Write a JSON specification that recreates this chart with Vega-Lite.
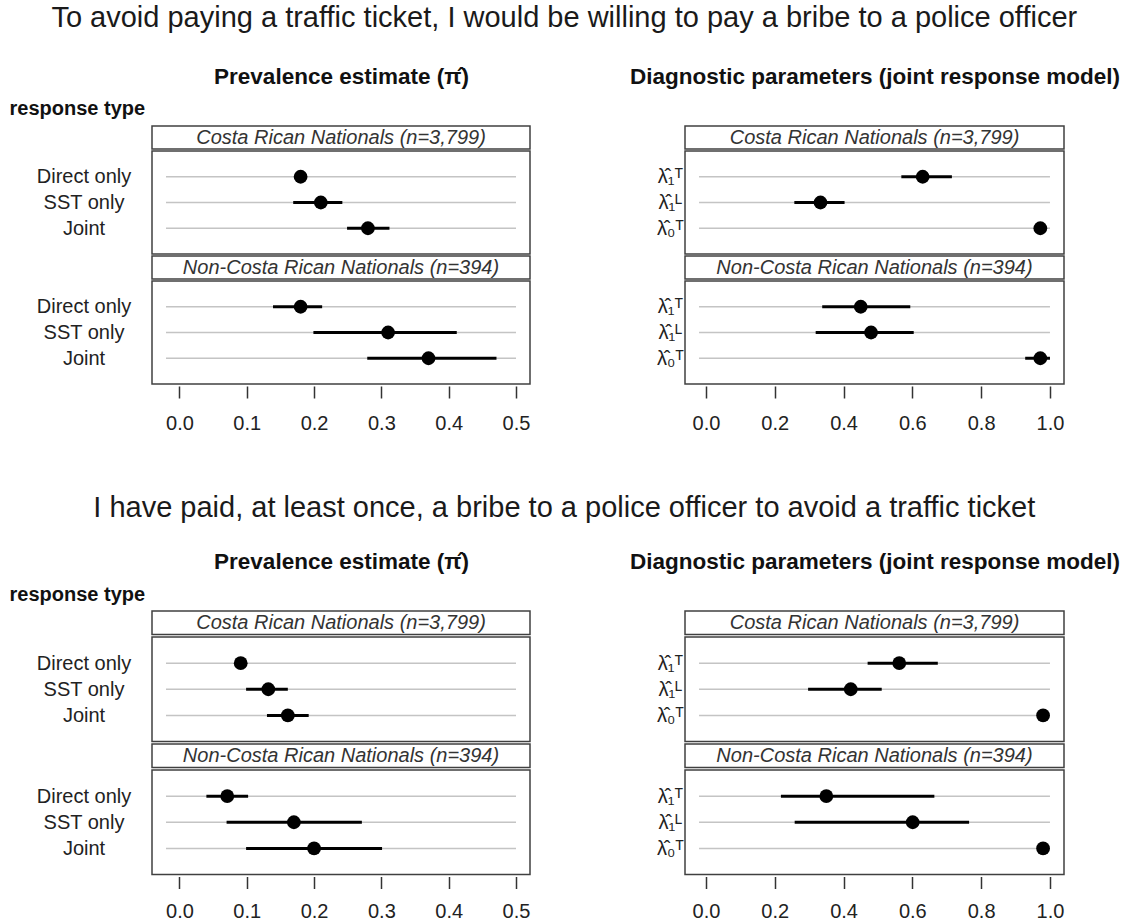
{
  "$schema": "https://vega.github.io/schema/vega-lite/v6.json",
  "padding": {"left": 8, "top": 4, "right": 0, "bottom": 0},
  "background": "white",
  "datasets": {
    "est": [
      {"q": 1, "panel": "prev", "grp": "CR", "row": "Direct only", "est": 0.18, "lo": 0.176, "hi": 0.185},
      {"q": 1, "panel": "prev", "grp": "CR", "row": "SST only", "est": 0.21, "lo": 0.169, "hi": 0.242},
      {"q": 1, "panel": "prev", "grp": "CR", "row": "Joint", "est": 0.28, "lo": 0.249, "hi": 0.312},
      {"q": 1, "panel": "prev", "grp": "NonCR", "row": "Direct only", "est": 0.18, "lo": 0.139, "hi": 0.212},
      {"q": 1, "panel": "prev", "grp": "NonCR", "row": "SST only", "est": 0.31, "lo": 0.199, "hi": 0.412},
      {"q": 1, "panel": "prev", "grp": "NonCR", "row": "Joint", "est": 0.37, "lo": 0.279, "hi": 0.471},
      {"q": 1, "panel": "diag", "grp": "CR", "row": "\u03bb\u0302\u2081\u1d40", "est": 0.63, "lo": 0.568, "hi": 0.715},
      {"q": 1, "panel": "diag", "grp": "CR", "row": "\u03bb\u0302\u2081\u1d38", "est": 0.333, "lo": 0.257, "hi": 0.403},
      {"q": 1, "panel": "diag", "grp": "CR", "row": "\u03bb\u0302\u2080\u1d40", "est": 0.972, "lo": 0.965, "hi": 0.98},
      {"q": 1, "panel": "diag", "grp": "NonCR", "row": "\u03bb\u0302\u2081\u1d40", "est": 0.45, "lo": 0.338, "hi": 0.594},
      {"q": 1, "panel": "diag", "grp": "NonCR", "row": "\u03bb\u0302\u2081\u1d38", "est": 0.48, "lo": 0.319, "hi": 0.604},
      {"q": 1, "panel": "diag", "grp": "NonCR", "row": "\u03bb\u0302\u2080\u1d40", "est": 0.972, "lo": 0.928, "hi": 1.0},
      {"q": 2, "panel": "prev", "grp": "CR", "row": "Direct only", "est": 0.091, "lo": 0.087, "hi": 0.095},
      {"q": 2, "panel": "prev", "grp": "CR", "row": "SST only", "est": 0.132, "lo": 0.099, "hi": 0.161},
      {"q": 2, "panel": "prev", "grp": "CR", "row": "Joint", "est": 0.161, "lo": 0.13, "hi": 0.192},
      {"q": 2, "panel": "prev", "grp": "NonCR", "row": "Direct only", "est": 0.071, "lo": 0.04, "hi": 0.102},
      {"q": 2, "panel": "prev", "grp": "NonCR", "row": "SST only", "est": 0.17, "lo": 0.07, "hi": 0.271},
      {"q": 2, "panel": "prev", "grp": "NonCR", "row": "Joint", "est": 0.2, "lo": 0.099, "hi": 0.301},
      {"q": 2, "panel": "diag", "grp": "CR", "row": "\u03bb\u0302\u2081\u1d40", "est": 0.562, "lo": 0.47, "hi": 0.674},
      {"q": 2, "panel": "diag", "grp": "CR", "row": "\u03bb\u0302\u2081\u1d38", "est": 0.421, "lo": 0.297, "hi": 0.511},
      {"q": 2, "panel": "diag", "grp": "CR", "row": "\u03bb\u0302\u2080\u1d40", "est": 0.98, "lo": 0.975, "hi": 0.985},
      {"q": 2, "panel": "diag", "grp": "NonCR", "row": "\u03bb\u0302\u2081\u1d40", "est": 0.35, "lo": 0.218, "hi": 0.664},
      {"q": 2, "panel": "diag", "grp": "NonCR", "row": "\u03bb\u0302\u2081\u1d38", "est": 0.601, "lo": 0.258, "hi": 0.765},
      {"q": 2, "panel": "diag", "grp": "NonCR", "row": "\u03bb\u0302\u2080\u1d40", "est": 0.98, "lo": 0.975, "hi": 0.985}
    ],
    "hdr": [
      {"grp": "CR", "label": "Costa Rican Nationals (n=3,799)"},
      {"grp": "NonCR", "label": "Non-Costa Rican Nationals (n=394)"}
    ]
  },
  "vconcat": [
    {
      "title": {"text": "To avoid paying a traffic ticket, I would be willing to pay a bribe to a police officer", "offset": 31},
      "spacing": 97,
      "hconcat": [
        {
          "spacing": 0,
          "vconcat": [
            {
              "width": 378, "height": 23,
              "data": {"name": "hdr"},
              "transform": [{"filter": "datum.grp == 'CR'"}],
              "mark": {"type": "text", "fontStyle": "italic", "fontSize": 20, "color": "#333"},
              "encoding": {
                "text": {"field": "label"},
                "x": {"field": "label", "type": "nominal", "axis": {"orient": "top", "labels": false, "ticks": false, "domain": false, "title": "Prevalence estimate (\u03c0\u0302)", "titleFontSize": 22.5, "titleFontWeight": "bold", "titleBaseline": "alphabetic", "titleY": -43, "titleColor": "#111"}},
                "y": {"field": "label", "type": "nominal", "axis": {"labels": false, "ticks": false, "domain": false, "title": "response type", "titleAngle": 0, "titleAlign": "left", "titleBaseline": "alphabetic", "titleX": -143, "titleY": -12, "titleFontSize": 20, "titleFontWeight": "bold", "titleColor": "#111"}}
              }
            },
            {
              "width": 378, "height": 103,
              "data": {"name": "est"},
              "transform": [{"filter": "datum.q == 1 && datum.panel == 'prev' && datum.grp == 'CR'"}],
              "encoding": {
                "y": {"field": "row", "type": "nominal", "sort": null, "scale": {"type": "point", "padding": 1}, "axis": {"title": null, "domain": false, "ticks": false, "labelAlign": "center", "labelPadding": 68.5, "labelFontSize": 20, "labelColor": "#222"}}
              },
              "layer": [
                {"mark": {"type": "rule", "color": "#c4c4c4", "strokeWidth": 1.5}, "encoding": {"x": {"datum": -0.02, "type": "quantitative", "scale": {"domain": [-0.0408, 0.5208], "nice": false, "zero": false}, "axis": null}, "x2": {"datum": 0.5}}},
                {"mark": {"type": "rule", "color": "black", "strokeWidth": 3}, "encoding": {"x": {"field": "lo", "type": "quantitative", "axis": null}, "x2": {"field": "hi"}}},
                {"mark": {"type": "point", "filled": true, "color": "black", "size": 190, "opacity": 1}, "encoding": {"x": {"field": "est", "type": "quantitative", "axis": null}}}
              ]
            },
            {
              "width": 378, "height": 23,
              "data": {"name": "hdr"},
              "transform": [{"filter": "datum.grp == 'NonCR'"}],
              "mark": {"type": "text", "fontStyle": "italic", "fontSize": 20, "color": "#333"},
              "encoding": {
                "text": {"field": "label"},
                "x": {"field": "label", "type": "nominal", "axis": null},
                "y": {"field": "label", "type": "nominal", "axis": null}
              }
            },
            {
              "width": 378, "height": 103,
              "data": {"name": "est"},
              "transform": [{"filter": "datum.q == 1 && datum.panel == 'prev' && datum.grp == 'NonCR'"}],
              "encoding": {
                "y": {"field": "row", "type": "nominal", "sort": null, "scale": {"type": "point", "padding": 1}, "axis": {"title": null, "domain": false, "ticks": false, "labelAlign": "center", "labelPadding": 68.5, "labelFontSize": 20, "labelColor": "#222"}}
              },
              "layer": [
                {"mark": {"type": "rule", "color": "#c4c4c4", "strokeWidth": 1.5}, "encoding": {"x": {"datum": -0.02, "type": "quantitative", "scale": {"domain": [-0.0408, 0.5208], "nice": false, "zero": false}, "axis": {"values": [0, 0.1, 0.2, 0.3, 0.4, 0.5], "format": ".1f", "title": null, "domain": false, "grid": false, "tickSize": 12, "tickWidth": 1.5, "tickColor": "#333", "offset": 2, "labelPadding": 15, "labelFontSize": 20, "labelColor": "#222", "labelFlush": false}}, "x2": {"datum": 0.5}}},
                {"mark": {"type": "rule", "color": "black", "strokeWidth": 3}, "encoding": {"x": {"field": "lo", "type": "quantitative"}, "x2": {"field": "hi"}}},
                {"mark": {"type": "point", "filled": true, "color": "black", "size": 190, "opacity": 1}, "encoding": {"x": {"field": "est", "type": "quantitative"}}}
              ]
            }
          ]
        },
        {
          "spacing": 0,
          "vconcat": [
            {
              "width": 379, "height": 23,
              "data": {"name": "hdr"},
              "transform": [{"filter": "datum.grp == 'CR'"}],
              "mark": {"type": "text", "fontStyle": "italic", "fontSize": 20, "color": "#333"},
              "encoding": {
                "text": {"field": "label"},
                "x": {"field": "label", "type": "nominal", "axis": {"orient": "top", "labels": false, "ticks": false, "domain": false, "title": "Diagnostic parameters (joint response model)", "titleFontSize": 22.5, "titleFontWeight": "bold", "titleBaseline": "alphabetic", "titleY": -43, "titleColor": "#111"}},
                "y": {"field": "label", "type": "nominal", "axis": null}
              }
            },
            {
              "width": 379, "height": 103,
              "data": {"name": "est"},
              "transform": [{"filter": "datum.q == 1 && datum.panel == 'diag' && datum.grp == 'CR'"}],
              "encoding": {
                "y": {"field": "row", "type": "nominal", "sort": null, "scale": {"type": "point", "padding": 1}, "axis": {"title": null, "domain": false, "ticks": false, "labelAlign": "center", "labelPadding": 15, "labelFontSize": 20, "labelColor": "#222"}}
              },
              "layer": [
                {"mark": {"type": "rule", "color": "#c4c4c4", "strokeWidth": 1.5}, "encoding": {"x": {"datum": -0.02, "type": "quantitative", "scale": {"domain": [-0.0608, 1.0408], "nice": false, "zero": false}, "axis": null}, "x2": {"datum": 1.0}}},
                {"mark": {"type": "rule", "color": "black", "strokeWidth": 3}, "encoding": {"x": {"field": "lo", "type": "quantitative", "axis": null}, "x2": {"field": "hi"}}},
                {"mark": {"type": "point", "filled": true, "color": "black", "size": 190, "opacity": 1}, "encoding": {"x": {"field": "est", "type": "quantitative", "axis": null}}}
              ]
            },
            {
              "width": 379, "height": 23,
              "data": {"name": "hdr"},
              "transform": [{"filter": "datum.grp == 'NonCR'"}],
              "mark": {"type": "text", "fontStyle": "italic", "fontSize": 20, "color": "#333"},
              "encoding": {
                "text": {"field": "label"},
                "x": {"field": "label", "type": "nominal", "axis": null},
                "y": {"field": "label", "type": "nominal", "axis": null}
              }
            },
            {
              "width": 379, "height": 103,
              "data": {"name": "est"},
              "transform": [{"filter": "datum.q == 1 && datum.panel == 'diag' && datum.grp == 'NonCR'"}],
              "encoding": {
                "y": {"field": "row", "type": "nominal", "sort": null, "scale": {"type": "point", "padding": 1}, "axis": {"title": null, "domain": false, "ticks": false, "labelAlign": "center", "labelPadding": 15, "labelFontSize": 20, "labelColor": "#222"}}
              },
              "layer": [
                {"mark": {"type": "rule", "color": "#c4c4c4", "strokeWidth": 1.5}, "encoding": {"x": {"datum": -0.02, "type": "quantitative", "scale": {"domain": [-0.0608, 1.0408], "nice": false, "zero": false}, "axis": {"values": [0, 0.2, 0.4, 0.6, 0.8, 1.0], "format": ".1f", "title": null, "domain": false, "grid": false, "tickSize": 12, "tickWidth": 1.5, "tickColor": "#333", "offset": 2, "labelPadding": 15, "labelFontSize": 20, "labelColor": "#222", "labelFlush": false}}, "x2": {"datum": 1.0}}},
                {"mark": {"type": "rule", "color": "black", "strokeWidth": 3}, "encoding": {"x": {"field": "lo", "type": "quantitative"}, "x2": {"field": "hi"}}},
                {"mark": {"type": "point", "filled": true, "color": "black", "size": 190, "opacity": 1}, "encoding": {"x": {"field": "est", "type": "quantitative"}}}
              ]
            }
          ]
        }
      ]
    },
    {
      "title": {"text": "I have paid, at least once, a bribe to a police officer to avoid a traffic ticket", "offset": 26.5},
      "spacing": 97,
      "hconcat": [
        {
          "spacing": 0,
          "vconcat": [
            {
              "width": 378, "height": 23.5,
              "data": {"name": "hdr"},
              "transform": [{"filter": "datum.grp == 'CR'"}],
              "mark": {"type": "text", "fontStyle": "italic", "fontSize": 20, "color": "#333"},
              "encoding": {
                "text": {"field": "label"},
                "x": {"field": "label", "type": "nominal", "axis": {"orient": "top", "labels": false, "ticks": false, "domain": false, "title": "Prevalence estimate (\u03c0\u0302)", "titleFontSize": 22.5, "titleFontWeight": "bold", "titleBaseline": "alphabetic", "titleY": -43, "titleColor": "#111"}},
                "y": {"field": "label", "type": "nominal", "axis": {"labels": false, "ticks": false, "domain": false, "title": "response type", "titleAngle": 0, "titleAlign": "left", "titleBaseline": "alphabetic", "titleX": -143, "titleY": -11, "titleFontSize": 20, "titleFontWeight": "bold", "titleColor": "#111"}}
              }
            },
            {
              "width": 378, "height": 104.5,
              "data": {"name": "est"},
              "transform": [{"filter": "datum.q == 2 && datum.panel == 'prev' && datum.grp == 'CR'"}],
              "encoding": {
                "y": {"field": "row", "type": "nominal", "sort": null, "scale": {"type": "point", "padding": 1}, "axis": {"title": null, "domain": false, "ticks": false, "labelAlign": "center", "labelPadding": 68.5, "labelFontSize": 20, "labelColor": "#222"}}
              },
              "layer": [
                {"mark": {"type": "rule", "color": "#c4c4c4", "strokeWidth": 1.5}, "encoding": {"x": {"datum": -0.02, "type": "quantitative", "scale": {"domain": [-0.0408, 0.5208], "nice": false, "zero": false}, "axis": null}, "x2": {"datum": 0.5}}},
                {"mark": {"type": "rule", "color": "black", "strokeWidth": 3}, "encoding": {"x": {"field": "lo", "type": "quantitative", "axis": null}, "x2": {"field": "hi"}}},
                {"mark": {"type": "point", "filled": true, "color": "black", "size": 190, "opacity": 1}, "encoding": {"x": {"field": "est", "type": "quantitative", "axis": null}}}
              ]
            },
            {
              "width": 378, "height": 23.5,
              "data": {"name": "hdr"},
              "transform": [{"filter": "datum.grp == 'NonCR'"}],
              "mark": {"type": "text", "fontStyle": "italic", "fontSize": 20, "color": "#333"},
              "encoding": {
                "text": {"field": "label"},
                "x": {"field": "label", "type": "nominal", "axis": null},
                "y": {"field": "label", "type": "nominal", "axis": null}
              }
            },
            {
              "width": 378, "height": 104.5,
              "data": {"name": "est"},
              "transform": [{"filter": "datum.q == 2 && datum.panel == 'prev' && datum.grp == 'NonCR'"}],
              "encoding": {
                "y": {"field": "row", "type": "nominal", "sort": null, "scale": {"type": "point", "padding": 1}, "axis": {"title": null, "domain": false, "ticks": false, "labelAlign": "center", "labelPadding": 68.5, "labelFontSize": 20, "labelColor": "#222"}}
              },
              "layer": [
                {"mark": {"type": "rule", "color": "#c4c4c4", "strokeWidth": 1.5}, "encoding": {"x": {"datum": -0.02, "type": "quantitative", "scale": {"domain": [-0.0408, 0.5208], "nice": false, "zero": false}, "axis": {"values": [0, 0.1, 0.2, 0.3, 0.4, 0.5], "format": ".1f", "title": null, "domain": false, "grid": false, "tickSize": 12, "tickWidth": 1.5, "tickColor": "#333", "offset": 2, "labelPadding": 13, "labelFontSize": 20, "labelColor": "#222", "labelFlush": false}}, "x2": {"datum": 0.5}}},
                {"mark": {"type": "rule", "color": "black", "strokeWidth": 3}, "encoding": {"x": {"field": "lo", "type": "quantitative"}, "x2": {"field": "hi"}}},
                {"mark": {"type": "point", "filled": true, "color": "black", "size": 190, "opacity": 1}, "encoding": {"x": {"field": "est", "type": "quantitative"}}}
              ]
            }
          ]
        },
        {
          "spacing": 0,
          "vconcat": [
            {
              "width": 379, "height": 23.5,
              "data": {"name": "hdr"},
              "transform": [{"filter": "datum.grp == 'CR'"}],
              "mark": {"type": "text", "fontStyle": "italic", "fontSize": 20, "color": "#333"},
              "encoding": {
                "text": {"field": "label"},
                "x": {"field": "label", "type": "nominal", "axis": {"orient": "top", "labels": false, "ticks": false, "domain": false, "title": "Diagnostic parameters (joint response model)", "titleFontSize": 22.5, "titleFontWeight": "bold", "titleBaseline": "alphabetic", "titleY": -43, "titleColor": "#111"}},
                "y": {"field": "label", "type": "nominal", "axis": null}
              }
            },
            {
              "width": 379, "height": 104.5,
              "data": {"name": "est"},
              "transform": [{"filter": "datum.q == 2 && datum.panel == 'diag' && datum.grp == 'CR'"}],
              "encoding": {
                "y": {"field": "row", "type": "nominal", "sort": null, "scale": {"type": "point", "padding": 1}, "axis": {"title": null, "domain": false, "ticks": false, "labelAlign": "center", "labelPadding": 15, "labelFontSize": 20, "labelColor": "#222"}}
              },
              "layer": [
                {"mark": {"type": "rule", "color": "#c4c4c4", "strokeWidth": 1.5}, "encoding": {"x": {"datum": -0.02, "type": "quantitative", "scale": {"domain": [-0.0608, 1.0408], "nice": false, "zero": false}, "axis": null}, "x2": {"datum": 1.0}}},
                {"mark": {"type": "rule", "color": "black", "strokeWidth": 3}, "encoding": {"x": {"field": "lo", "type": "quantitative", "axis": null}, "x2": {"field": "hi"}}},
                {"mark": {"type": "point", "filled": true, "color": "black", "size": 190, "opacity": 1}, "encoding": {"x": {"field": "est", "type": "quantitative", "axis": null}}}
              ]
            },
            {
              "width": 379, "height": 23.5,
              "data": {"name": "hdr"},
              "transform": [{"filter": "datum.grp == 'NonCR'"}],
              "mark": {"type": "text", "fontStyle": "italic", "fontSize": 20, "color": "#333"},
              "encoding": {
                "text": {"field": "label"},
                "x": {"field": "label", "type": "nominal", "axis": null},
                "y": {"field": "label", "type": "nominal", "axis": null}
              }
            },
            {
              "width": 379, "height": 104.5,
              "data": {"name": "est"},
              "transform": [{"filter": "datum.q == 2 && datum.panel == 'diag' && datum.grp == 'NonCR'"}],
              "encoding": {
                "y": {"field": "row", "type": "nominal", "sort": null, "scale": {"type": "point", "padding": 1}, "axis": {"title": null, "domain": false, "ticks": false, "labelAlign": "center", "labelPadding": 15, "labelFontSize": 20, "labelColor": "#222"}}
              },
              "layer": [
                {"mark": {"type": "rule", "color": "#c4c4c4", "strokeWidth": 1.5}, "encoding": {"x": {"datum": -0.02, "type": "quantitative", "scale": {"domain": [-0.0608, 1.0408], "nice": false, "zero": false}, "axis": {"values": [0, 0.2, 0.4, 0.6, 0.8, 1.0], "format": ".1f", "title": null, "domain": false, "grid": false, "tickSize": 12, "tickWidth": 1.5, "tickColor": "#333", "offset": 2, "labelPadding": 13, "labelFontSize": 20, "labelColor": "#222", "labelFlush": false}}, "x2": {"datum": 1.0}}},
                {"mark": {"type": "rule", "color": "black", "strokeWidth": 3}, "encoding": {"x": {"field": "lo", "type": "quantitative"}, "x2": {"field": "hi"}}},
                {"mark": {"type": "point", "filled": true, "color": "black", "size": 190, "opacity": 1}, "encoding": {"x": {"field": "est", "type": "quantitative"}}}
              ]
            }
          ]
        }
      ]
    }
  ],
  "spacing": 59,
  "config": {
    "font": "Liberation Sans",
    "view": {"stroke": "#404040", "strokeWidth": 1.5},
    "axis": {"grid": false, "labelFont": "Liberation Sans", "titleFont": "Liberation Sans"},
    "title": {"font": "Liberation Sans", "fontSize": 29, "fontWeight": "normal", "color": "#1a1a1a", "anchor": "middle", "baseline": "alphabetic"}
  }
}
